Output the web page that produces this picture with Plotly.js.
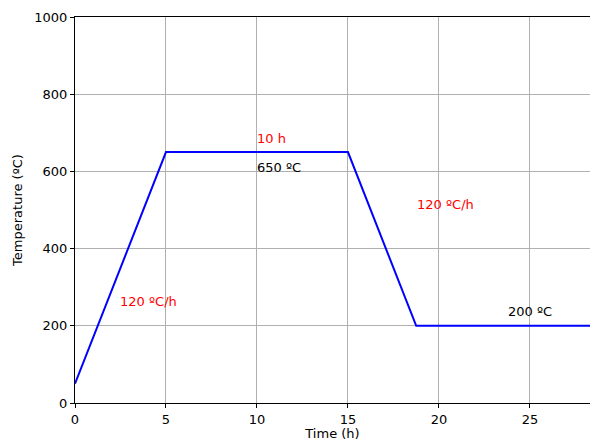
<!DOCTYPE html>
<html>
<head>
<meta charset="utf-8">
<script src="https://cdn.plot.ly/plotly-3.0.1.min.js"></script>
<style>html,body{margin:0;padding:0;background:#fff;}#chart{width:590px;height:441px;}</style>
</head>
<body>
<div id="chart"></div>
<script>
// Data
const timeH = [0, 5, 15, 18.75, 28.3];
const tempC = [50, 650, 650, 200, 200];
const labelTexts = ["10 h", "650 ºC", "120 ºC/h", "120 ºC/h", "200 ºC"];
const labelX = [10, 10, 2.5, 18.8, 23.8];
const labelY = [686, 611, 262, 513, 238];
const labelColors = ["red", "black", "red", "red", "black"];

const font = {family: "DejaVu Sans", size: 13, color: "black"};

const annotations = labelTexts.map((t, i) => ({
  x: labelX[i], y: labelY[i], xref: "x", yref: "y",
  text: t, showarrow: false, xanchor: "left", yanchor: "middle", xshift: -2,
  font: {family: "DejaVu Sans", size: 13, color: labelColors[i]}
}));

const trace = {
  x: timeH, y: tempC, type: "scatter", mode: "lines",
  line: {color: "blue", width: 2}, hoverinfo: "skip", cliponaxis: true
};

const layout = {
  width: 590, height: 441,
  margin: {l: 75, r: 0, t: 17, b: 38},
  paper_bgcolor: "white", plot_bgcolor: "white",
  font: font,
  showlegend: false,
  xaxis: {
    range: [0, 28.3], tickvals: [0, 5, 10, 15, 20, 25],
    showgrid: true, gridcolor: "#b0b0b0", gridwidth: 1,
    showline: true, linecolor: "black", linewidth: 1, mirror: true,
    ticks: "outside", ticklen: 4, tickcolor: "black", tickwidth: 1,
    zeroline: false,
    title: {text: "Time (h)", font: font, standoff: 8}
  },
  yaxis: {
    range: [0, 1000], tickvals: [0, 200, 400, 600, 800, 1000],
    showgrid: true, gridcolor: "#b0b0b0", gridwidth: 1,
    showline: true, linecolor: "black", linewidth: 1, mirror: false,
    ticks: "outside", ticklen: 4, tickcolor: "black", tickwidth: 1,
    zeroline: false,
    title: {text: "Temperature (ºC)", font: font, standoff: 8}
  },
  annotations: annotations
};

Plotly.newPlot("chart", [trace], layout, {displayModeBar: false, staticPlot: true});
</script>
</body>
</html>
